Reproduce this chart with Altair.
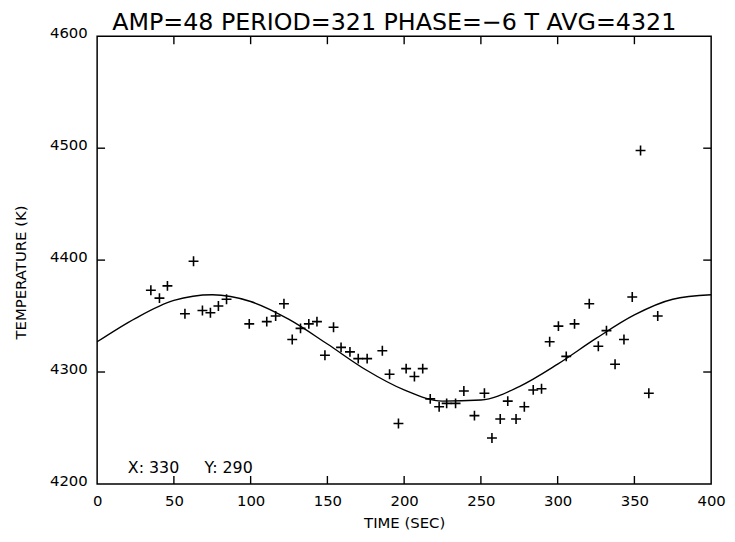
import altair as alt
import pandas as pd

# Measured points (time in s, temperature in K)
time_s = [35.0, 40.6, 45.8, 57.2, 62.8, 68.6, 73.8, 79.0, 84.3, 99.1,
          110.5, 116.3, 121.7, 127.1, 132.5, 137.9, 143.2, 148.4, 154.0, 158.9,
          164.7, 170.1, 175.9, 185.8, 190.5, 196.3, 201.3, 206.7, 212.1, 217.0,
          222.8, 227.7, 233.5, 238.9, 245.8, 252.3, 257.2, 262.6, 267.5, 272.9,
          278.3, 284.1, 289.5, 294.8, 300.5, 305.6, 311.0, 320.6, 326.5, 331.8,
          337.4, 343.2, 348.6, 354.0, 359.4, 365.2]
temp_k = [4373, 4366, 4377, 4352, 4399, 4355, 4353, 4359, 4365, 4343,
          4345, 4350, 4361, 4329, 4339, 4343, 4345, 4315, 4340, 4322,
          4318, 4312, 4312, 4319, 4298, 4254, 4303, 4296, 4303, 4276,
          4269, 4272, 4272, 4283, 4261, 4281, 4241, 4258, 4274, 4258,
          4269, 4284, 4285, 4327, 4341, 4314, 4343, 4361, 4323, 4337,
          4307, 4329, 4367, 4498, 4281, 4350]

# Fitted curve
fit_time = [0, 25, 50, 75, 100, 125, 150, 175, 200, 225, 250, 275, 300, 325, 350, 375, 400]
fit_temp = [4327, 4348, 4364, 4369, 4363, 4347, 4325, 4302, 4284, 4274, 4275, 4287, 4307, 4330, 4351, 4365, 4369]

x_ticks = [50, 100, 150, 200, 250, 300, 350]
y_ticks = [4300, 4400, 4500]
x_labels = [0, 50, 100, 150, 200, 250, 300, 350, 400]
y_labels = [4200, 4300, 4400, 4500, 4600]

note_t = [20, 70]
note_T = [4214, 4214]
note_text = ["X: 330", "Y: 290"]

title_text = "AMP=48 PERIOD=321  PHASE=\u22126 T AVG=4321"

FONT = "DejaVu Sans"
W, H = 620, 452

pts_df = pd.DataFrame({"t": time_s, "T": temp_k})
fit_df = pd.DataFrame({"t": fit_time, "T": fit_temp})
xt_df = pd.DataFrame({"t": x_ticks})
yt_df = pd.DataFrame({"T": y_ticks})
note_df = pd.DataFrame({"t": note_t, "T": note_T, "label": note_text})

xscale = alt.Scale(domain=[0, 400], nice=False, zero=False)
yscale = alt.Scale(domain=[4200, 4600], nice=False, zero=False)

common_axis = dict(domain=False, ticks=False, grid=False, labelFont=FONT, labelFontSize=15,
                   labelColor="black", titleFont=FONT, titleFontSize=15,
                   titleFontWeight="normal", titleColor="black", format="d", labelPadding=10,
                   labelFlush=False, titleBaseline="alphabetic")

xaxis = alt.Axis(title="TIME (SEC)", values=x_labels, titleY=44, **common_axis)
yaxis = alt.Axis(title="TEMPERATURE (K)", values=y_labels, labelBaseline="alphabetic",
                 labelOffset=1.5, titleX=-72, titleY=238, titleAngle=270,
                 titleAlign="center", **common_axis)


def X():
    return alt.X("t:Q", scale=xscale, axis=xaxis)


def Y():
    return alt.Y("T:Q", scale=yscale, axis=yaxis)


fit = alt.Chart(fit_df).mark_line(color="black", strokeWidth=1.4, interpolate="monotone").encode(
    x=X(), y=Y())

pts = alt.Chart(pts_df).mark_point(shape="M-1,0L1,0M0,-1L0,1", size=100, filled=False,
                                   color="black", strokeWidth=1.6, opacity=1).encode(x=X(), y=Y())

tick_style = dict(color="black", strokeWidth=1.4)
top_ticks = alt.Chart(xt_df).mark_rule(**tick_style).encode(x=X(), y=alt.value(0), y2=alt.value(8))
bot_ticks = alt.Chart(xt_df).mark_rule(**tick_style).encode(x=X(), y=alt.value(H), y2=alt.value(H - 8))
left_ticks = alt.Chart(yt_df).mark_rule(**tick_style).encode(y=Y(), x=alt.value(0), x2=alt.value(8))
right_ticks = alt.Chart(yt_df).mark_rule(**tick_style).encode(y=Y(), x=alt.value(W), x2=alt.value(W - 8))

notes = alt.Chart(note_df).mark_text(font=FONT, fontSize=16, align="left", baseline="middle",
                                     color="black").encode(x=X(), y=Y(), text="label:N")

chart = alt.layer(fit, pts, top_ticks, bot_ticks, left_ticks, right_ticks, notes).properties(
    width=W, height=H,
    background="white",
    autosize=alt.AutoSizeParams(type="none"),
    padding={"left": 90, "top": 26, "right": 16, "bottom": 48},
    title=alt.TitleParams(text=title_text, font=FONT, fontSize=24, fontWeight="normal",
                          color="black", anchor="middle", dx=-10, offset=0, dy=28,
                          baseline="alphabetic"),
).configure_view(stroke="black", strokeWidth=1.5)

chart.save("out.html", embed_options={"renderer": "svg", "actions": False})
